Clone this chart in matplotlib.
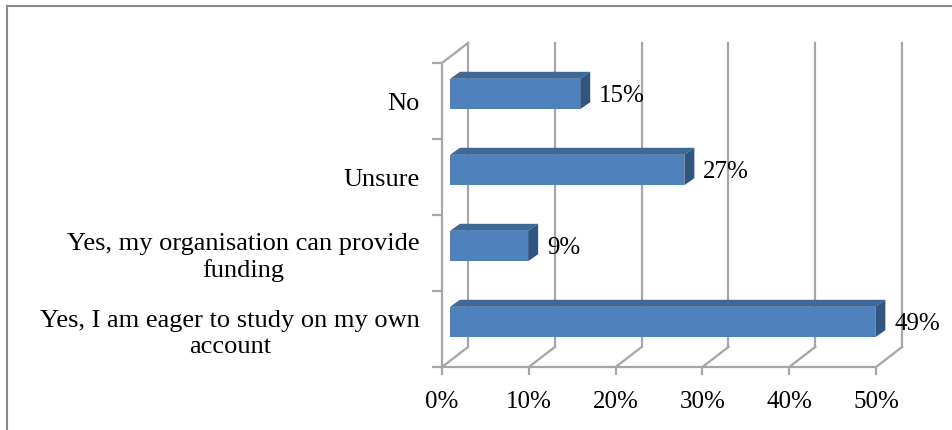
import matplotlib
matplotlib.use('Agg')
import matplotlib.pyplot as plt
import matplotlib.transforms as mtransforms
from matplotlib.patches import Polygon
from matplotlib.lines import Line2D

# data (bottom to top)
categories = ['Yes, I am eager to study on my own\naccount',
              'Yes, my organisation can provide\nfunding',
              'Unsure',
              'No']
values = [49, 9, 27, 15]
xticks = [0, 10, 20, 30, 40, 50]
xticklabels = ['0%', '10%', '20%', '30%', '40%', '50%']

plt.rcParams['font.family'] = ['Liberation Serif', 'DejaVu Serif']

W, H = 953, 430
fig = plt.figure(figsize=(W / 100, H / 100), dpi=100)
ax = fig.add_axes([442 / W, (H - 367) / H, (876 - 442) / W, (367 - 63) / H])
ax.set_xlim(0, 50)
ax.set_ylim(-0.5, 3.5)

grid_col = '#A6A6A6'
depth = (26, 20)          # back wall offset in pixels
bar_front = (8, 7)        # bar front face offset
bar_back = (18, 14)       # bar back face offset
ident = mtransforms.IdentityTransform()


def shift(dx, dy):
    return ax.transData + mtransforms.ScaledTranslation(dx / 100, dy / 100, fig.dpi_scale_trans)


def disp(x, y, off=(0, 0)):
    px, py = ax.transData.transform((x, y))
    return (px + off[0], py + off[1])


# back wall gridlines
back = shift(*depth)
for xt in xticks:
    ax.plot([xt, xt], [-0.5, 3.5], color=grid_col, lw=1.6, transform=back, clip_on=False, zorder=1)
    # floor diagonals
    p0, p1 = disp(xt, -0.5), disp(xt, -0.5, depth)
    ax.add_line(Line2D([p0[0], p1[0]], [p0[1], p1[1]], color=grid_col, lw=1.6,
                       transform=ident, clip_on=False, zorder=1))
# left wall top edge
p0, p1 = disp(0, 3.5), disp(0, 3.5, depth)
ax.add_line(Line2D([p0[0], p1[0]], [p0[1], p1[1]], color=grid_col, lw=1.6,
                   transform=ident, clip_on=False, zorder=1))

# spines / ticks
for s in ['top', 'right']:
    ax.spines[s].set_visible(False)
for s in ['left', 'bottom']:
    ax.spines[s].set_color(grid_col)
    ax.spines[s].set_linewidth(1.6)
ax.patch.set_visible(False)

ax.set_xticks(xticks)
ax.set_xticklabels(xticklabels, fontsize=18)
ax.set_yticks(range(len(categories)))
ax.set_yticklabels(categories, fontsize=19, multialignment='center', linespacing=1.25)
ax.set_yticks([-0.5, 0.5, 1.5, 2.5, 3.5], minor=True)
ax.tick_params(axis='x', length=6, width=1.6, color=grid_col, pad=11)
ax.tick_params(axis='y', which='major', length=0, pad=16)
ax.tick_params(axis='y', which='minor', length=7, width=1.6, color=grid_col)

# bars
h = 0.4
front_col, top_col, side_col = '#4F81BD', '#3D6898', '#30557F'
ax.barh(range(len(values)), values, height=h, color=front_col,
        transform=shift(*bar_front), zorder=3)
for i, v in enumerate(values):
    top = [disp(0, i + h / 2, bar_front), disp(v, i + h / 2, bar_front),
           disp(v, i + h / 2, bar_back), disp(0, i + h / 2, bar_back)]
    side = [disp(v, i - h / 2, bar_front), disp(v, i + h / 2, bar_front),
            disp(v, i + h / 2, bar_back), disp(v, i - h / 2, bar_back)]
    ax.add_patch(Polygon(top, closed=True, facecolor=top_col, edgecolor='none',
                         transform=ident, clip_on=False, zorder=3))
    ax.add_patch(Polygon(side, closed=True, facecolor=side_col, edgecolor='none',
                         transform=ident, clip_on=False, zorder=3))
    ax.text(v, i, f'{v}%', transform=shift(27, 5), fontsize=18,
            ha='left', va='center', clip_on=False)

# outer frame (image is cropped at right and bottom)
fig.add_artist(Line2D([7 / W, 7 / W], [0, 1 - 6 / H], color='#888888', lw=1.5,
                      transform=fig.transFigure))
fig.add_artist(Line2D([7 / W, 1], [1 - 6 / H, 1 - 6 / H], color='#888888', lw=1.5,
                      transform=fig.transFigure))

fig.savefig('out.png', dpi=100)
